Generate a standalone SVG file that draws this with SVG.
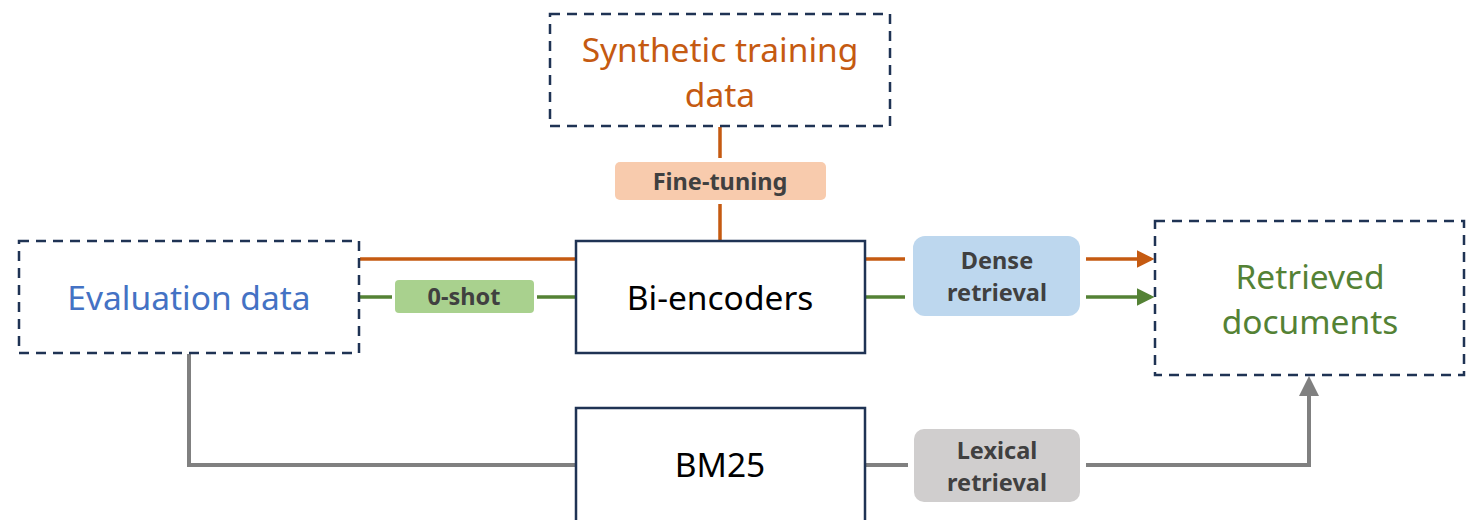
<svg xmlns="http://www.w3.org/2000/svg" width="1468" height="520" viewBox="0 0 1468 520">
<style>
.dash{fill:#fff;stroke:#1F3354;stroke-width:2.5;stroke-dasharray:10 7}
.solid{fill:#fff;stroke:#1F3354;stroke-width:2.5}
.big{font-family:"Noto Sans","Noto Sans CJK SC",sans-serif;font-size:33.5px;text-anchor:middle}
.lbl{font-family:"Noto Sans","Noto Sans CJK SC",sans-serif;font-size:23.5px;font-weight:bold;fill:#404040;text-anchor:middle}
.or{stroke:#C55A11;stroke-width:3.5;fill:none}
.gr{stroke:#548235;stroke-width:3.5;fill:none}
.gy{stroke:#808080;stroke-width:4;fill:none}
</style>
<defs>
<marker id="aO" markerWidth="5" markerHeight="5" refX="4" refY="2.5" orient="auto" markerUnits="strokeWidth"><path d="M0,0 L5,2.5 L0,5 Z" fill="#C55A11"/></marker>
<marker id="aG" markerWidth="5" markerHeight="5" refX="4" refY="2.5" orient="auto" markerUnits="strokeWidth"><path d="M0,0 L5,2.5 L0,5 Z" fill="#548235"/></marker>
<marker id="aY" markerWidth="5" markerHeight="5" refX="4" refY="2.5" orient="auto" markerUnits="strokeWidth"><path d="M0,0 L5,2.5 L0,5 Z" fill="#808080"/></marker>
</defs>
<g id="connectors">
<path class="or" d="M720,127 V158 M720,204 V241"/>
<path class="or" d="M360,259 H576"/>
<path class="gr" d="M360,297 H392 M537,297 H576"/>
<path class="or" d="M865,259 H905"/>
<path class="gr" d="M865,297 H905"/>
<path class="or" d="M1086,259 H1151" marker-end="url(#aO)"/>
<path class="gr" d="M1086,297 H1151" marker-end="url(#aG)"/>
<path class="gy" d="M189,354 V465 H576"/>
<path class="gy" d="M865,465 H908"/>
<path class="gy" d="M1086,465 H1309 V380" marker-end="url(#aY)"/>
</g>
<g id="synthetic">
<rect class="dash" x="550" y="14" width="340" height="112"/>
<text class="big" x="720" y="62" fill="#C55A11">Synthetic training</text>
<text class="big" x="720" y="107" fill="#C55A11">data</text>
</g>
<g id="finetuning">
<rect x="615" y="162" width="211" height="38" rx="5" fill="#F8CBAD"/>
<text class="lbl" x="720" y="190">Fine-tuning</text>
</g>
<g id="evaluation">
<rect class="dash" x="19" y="241" width="340" height="112"/>
<text class="big" x="189" y="310" fill="#4472C4">Evaluation data</text>
</g>
<g id="zeroshot">
<rect x="395" y="280" width="139" height="33" rx="4" fill="#A9D18E"/>
<text class="lbl" x="464" y="305">0-shot</text>
</g>
<g id="biencoders">
<rect class="solid" x="576" y="241" width="289" height="112"/>
<text class="big" x="720" y="310" fill="#000">Bi-encoders</text>
</g>
<g id="dense">
<rect x="913" y="236" width="167" height="80" rx="12" fill="#BDD7EE"/>
<text class="lbl" x="997" y="269">Dense</text>
<text class="lbl" x="997" y="301">retrieval</text>
</g>
<g id="retrieved">
<rect class="dash" x="1155" y="221" width="309" height="154"/>
<text class="big" x="1310" y="289" fill="#548235">Retrieved</text>
<text class="big" x="1310" y="334" fill="#548235">documents</text>
</g>
<g id="bm25">
<rect class="solid" x="576" y="408" width="289" height="125"/>
<text class="big" x="720" y="477" fill="#000">BM25</text>
</g>
<g id="lexical">
<rect x="914" y="429" width="166" height="73" rx="10" fill="#D0CECE"/>
<text class="lbl" x="997" y="459">Lexical</text>
<text class="lbl" x="997" y="491">retrieval</text>
</g>
</svg>
